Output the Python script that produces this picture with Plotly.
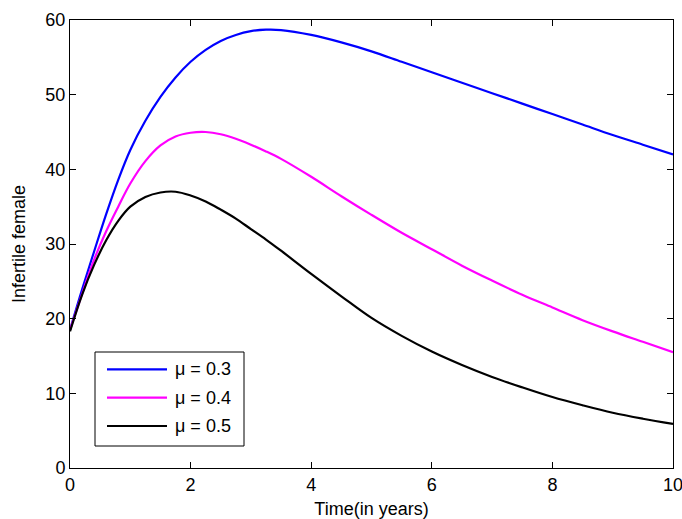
import plotly.graph_objects as go

# Time (years)
t = [0, 0.2, 0.4, 0.6, 0.8, 1.0, 1.25, 1.5, 1.75, 2.0, 2.25, 2.5, 2.75, 3.0, 3.25, 3.5,
     4.0, 4.5, 5.0, 5.5, 6.0, 6.5, 7.0, 7.5, 8.0, 8.5, 9.0, 9.5, 10.0]

mu_03 = [18.5, 23.9, 29.0, 34.0, 38.6, 42.6, 46.5, 49.7, 52.3, 54.4, 56.0, 57.2, 58.0, 58.5, 58.7, 58.65,
         58.0, 57.0, 55.8, 54.4, 53.0, 51.6, 50.2, 48.8, 47.4, 46.0, 44.6, 43.3, 42.0]
mu_04 = [18.5, 23.3, 27.9, 31.7, 35.0, 38.1, 41.1, 43.2, 44.4, 44.9, 45.0, 44.7, 44.1, 43.3, 42.4, 41.4,
         39.0, 36.4, 33.9, 31.5, 29.3, 27.1, 25.1, 23.2, 21.5, 19.8, 18.3, 16.9, 15.5]
mu_05 = [18.3, 23.2, 27.2, 30.5, 33.1, 35.0, 36.3, 36.9, 37.0, 36.5, 35.7, 34.6, 33.4, 32.0, 30.6, 29.1,
         26.0, 23.0, 20.1, 17.7, 15.6, 13.8, 12.2, 10.8, 9.5, 8.4, 7.4, 6.6, 5.9]

series_names = ["\u03bc = 0.3", "\u03bc = 0.4", "\u03bc = 0.5"]
series_colors = ["#0000FF", "#FF00FF", "#000000"]

x_ticks = [0, 2, 4, 6, 8, 10]
y_ticks = [0, 10, 20, 30, 40, 50, 60]

FONT = "Liberation Sans, Arial, sans-serif"
FS = 18

fig = go.Figure()
for name, ys, col in zip(series_names, [mu_03, mu_04, mu_05], series_colors):
    fig.add_trace(go.Scatter(x=t, y=ys, mode="lines", name=name, showlegend=False,
                             line=dict(color=col, width=2.2, shape="spline", smoothing=1.0)))

axis_common = dict(showline=True, linecolor="#000000", linewidth=1, mirror="ticks",
                   ticks="inside", ticklen=6, tickwidth=1, tickcolor="#000000",
                   showgrid=False, zeroline=False, automargin=False,
                   ticklabeloverflow="allow",
                   tickfont=dict(family=FONT, size=FS, color="#000000"))

# Plot-area geometry in pixels (used to place the hand-drawn legend box)
W, H = 682, 519
ML, MR, MT, MB = 70, 9, 20, 51
PW, PH = W - ML - MR, H - MT - MB


def px_x(p):
    return (p - ML) / PW


def px_y(p):
    return (H - MB - p) / PH


fig.update_layout(
    width=W, height=H,
    margin=dict(l=ML, r=MR, t=MT, b=MB, autoexpand=False),
    paper_bgcolor="white", plot_bgcolor="white",
    font=dict(family=FONT, size=FS, color="#000000"),
    xaxis=dict(range=[0, 10], tickvals=x_ticks,
               title=dict(text="Time(in years)", font=dict(family=FONT, size=FS), standoff=8),
               **axis_common),
    yaxis=dict(range=[0, 60], tickvals=y_ticks,
               title=dict(text="Infertile female", font=dict(family=FONT, size=FS), standoff=15),
               **axis_common),
    showlegend=False,
)

# Legend (MATLAB style box)
fig.add_shape(type="rect", xref="paper", yref="paper",
              x0=px_x(95), x1=px_x(244), y0=px_y(446), y1=px_y(352),
              line=dict(color="#000000", width=1), fillcolor="white", layer="above")
row_y = [369.3, 397.7, 426.0]
for name, col, ry in zip(series_names, series_colors, row_y):
    fig.add_shape(type="line", xref="paper", yref="paper",
                  x0=px_x(107), x1=px_x(167), y0=px_y(ry), y1=px_y(ry),
                  line=dict(color=col, width=2.2), layer="above")
    fig.add_annotation(xref="paper", yref="paper", x=px_x(173), y=px_y(ry),
                       xanchor="left", yanchor="middle", text=name, showarrow=False,
                       font=dict(family=FONT, size=FS, color="#000000"))

fig.write_html("out.html", config={"displayModeBar": False},
               post_script="document.body.style.margin='0px';document.body.style.overflow='hidden';")
